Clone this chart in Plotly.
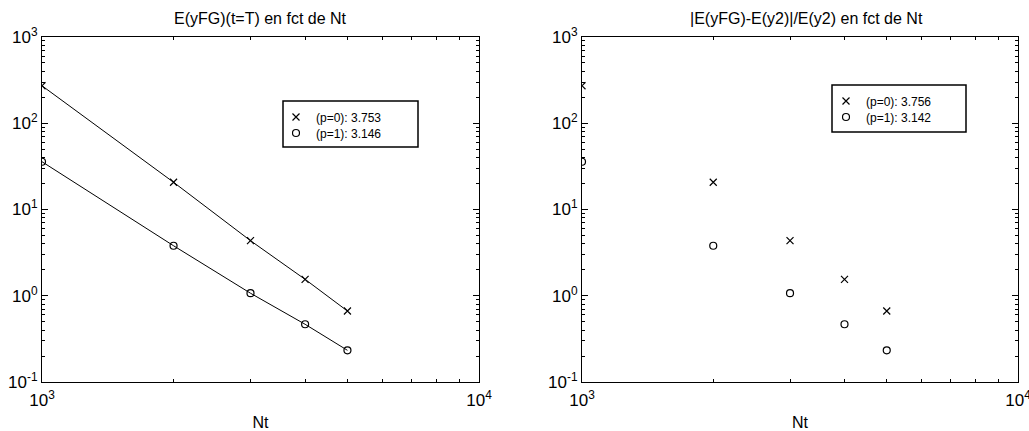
import plotly.graph_objects as go

nt = [1000, 2000, 3000, 4000, 5000]
left_p0 = [272, 20.7, 4.35, 1.55, 0.665]
left_p1 = [35.8, 3.80, 1.07, 0.467, 0.233]
right_p0 = [272, 20.7, 4.35, 1.55, 0.665]
right_p1 = [35.8, 3.80, 1.07, 0.467, 0.233]
left_labels = ["(p=0): 3.753", "(p=1): 3.146"]
right_labels = ["(p=0): 3.756", "(p=1): 3.142"]
titles = ["E(yFG)(t=T) en fct de Nt", "|E(yFG)-E(y2)|/E(y2) en fct de Nt"]

y_major = [0.1, 1, 10, 100, 1000]
y_text = ["10<sup>-1</sup>", "10<sup>0</sup>", "10<sup>1</sup>", "10<sup>2</sup>", "10<sup>3</sup>"]
x_major = [1000, 10000]
x_text = ["10<sup>3</sup>", "10<sup>4</sup>"]
y_minor = [k * 10 ** e for e in (-1, 0, 1, 2) for k in range(2, 10)]
x_minor = [k * 1000 for k in range(2, 10)]

FONT = "Liberation Sans, Arial, sans-serif"
W, H = 1029, 431
fig = go.Figure()

mk = lambda sym: dict(symbol=sym, size=7, color="black", line=dict(width=1.2, color="black"))

fig.add_trace(go.Scatter(x=nt, y=left_p0, mode="lines", line=dict(color="black", width=1),
                         showlegend=False, xaxis="x", yaxis="y"))
fig.add_trace(go.Scatter(x=nt, y=left_p1, mode="lines", line=dict(color="black", width=1),
                         showlegend=False, xaxis="x", yaxis="y"))
fig.add_trace(go.Scatter(x=nt, y=left_p0, mode="markers", name=left_labels[0], marker=mk("x-thin-open"),
                         xaxis="x", yaxis="y", legend="legend"))
fig.add_trace(go.Scatter(x=nt, y=left_p1, mode="markers", name=left_labels[1], marker=mk("circle-open"),
                         xaxis="x", yaxis="y", legend="legend2"))
fig.add_trace(go.Scatter(x=nt, y=right_p0, mode="markers", name=right_labels[0], marker=mk("x-thin-open"),
                         xaxis="x2", yaxis="y2", legend="legend3"))
fig.add_trace(go.Scatter(x=nt, y=right_p1, mode="markers", name=right_labels[1], marker=mk("circle-open"),
                         xaxis="x2", yaxis="y2", legend="legend4"))

ydom = [1 - 382 / H, 1 - 37 / H]

def xax(dom, anchor):
    return dict(type="log", domain=dom, anchor=anchor, range=[3, 4], automargin=False,
                tickmode="array", tickvals=x_major, ticktext=x_text, ticklabeloverflow="allow",
                ticks="inside", ticklen=6, tickcolor="black", tickwidth=1,
                showline=True, linecolor="black", linewidth=1, mirror="allticks",
                showgrid=False, zeroline=False, ticklabelstandoff=3,
                minor=dict(tickmode="array", tickvals=x_minor, ticks="inside", ticklen=3,
                           tickcolor="black", showgrid=False),
                tickfont=dict(family=FONT, size=17, color="black"),
                title=dict(text="Nt", font=dict(family=FONT, size=16, color="black"), standoff=9))

def yax(anchor):
    return dict(type="log", domain=ydom, anchor=anchor, range=[-1, 3], automargin=False,
                tickmode="array", tickvals=y_major, ticktext=y_text, ticklabeloverflow="allow",
                ticks="inside", ticklen=6, tickcolor="black", tickwidth=1,
                showline=True, linecolor="black", linewidth=1, mirror="allticks",
                showgrid=False, zeroline=False,
                minor=dict(tickmode="array", tickvals=y_minor, ticks="inside", ticklen=3,
                           tickcolor="black", showgrid=False),
                tickfont=dict(family=FONT, size=17, color="black"))

leg_common = dict(bgcolor="rgba(0,0,0,0)", borderwidth=0,
                  font=dict(family=FONT, size=12, color="black"),
                  xanchor="left", yanchor="middle", itemwidth=30)

def leg(px, py):
    return dict(x=px / W, y=1 - py / H, **leg_common)

box = lambda x0, y0, x1, y1: dict(type="rect", xref="paper", yref="paper",
                                   x0=x0 / W, x1=x1 / W, y0=1 - y1 / H, y1=1 - y0 / H,
                                   line=dict(color="black", width=1.5), fillcolor="white", layer="below")

fig.update_layout(
    width=W, height=H,
    margin=dict(l=0, r=0, t=0, b=0),
    paper_bgcolor="white", plot_bgcolor="rgba(0,0,0,0)",
    xaxis=xax([42 / W, 479 / W], "y"),
    yaxis=yax("x"),
    xaxis2=xax([582 / W, 1018 / W], "y2"),
    yaxis2=yax("x2"),
    legend=leg(276, 117),
    legend2=leg(276, 133),
    legend3=leg(826, 101),
    legend4=leg(826, 117),
    shapes=[box(283, 101, 418, 147), box(832, 85, 966, 132)],
    annotations=[
        dict(text=titles[0], x=260.5 / W, y=1 - 19 / H, xref="paper", yref="paper",
             showarrow=False, xanchor="center", yanchor="middle",
             font=dict(family=FONT, size=16, color="black")),
        dict(text=titles[1], x=806 / W, y=1 - 19 / H, xref="paper", yref="paper",
             showarrow=False, xanchor="center", yanchor="middle",
             font=dict(family=FONT, size=16, color="black")),
    ],
)

fig.write_html("out.html", config={"displayModeBar": False},
               post_script="document.body.style.margin='0px';")
